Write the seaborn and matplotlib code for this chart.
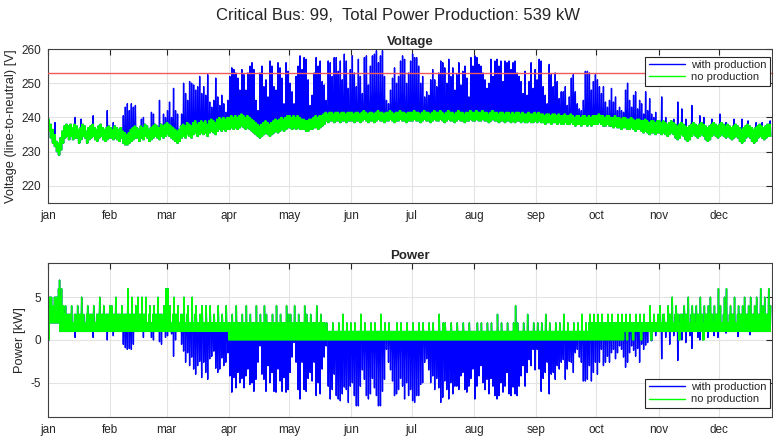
import numpy as np
import pandas as pd
import matplotlib
matplotlib.use("Agg")
import matplotlib.pyplot as plt
from matplotlib.lines import Line2D
import seaborn as sns

N = None

# ---------------- axis labels / categories ----------------
months = ["jan", "feb", "mar", "apr", "may", "jun", "jul", "aug", "sep", "oct", "nov", "dec"]
month_start = [0, 31, 59, 90, 120, 151, 181, 212, 243, 273, 304, 334]
voltage_limit = 253
v_ticks = [220, 230, 240, 250, 260]
p_ticks = [-5, 0, 5]

# ---------------- voltage, no production: daily band (hi / lo) [V] ----------------
v_hi = [
    # jan
    239.5, 238, 236.5, 235, 233, 232.5, 234, 236, 237.5, 238, 237.5, 238, 237, 238, 237.5, 236.5,
    237, 238, 237.5, 236, 237, 237.5, 238, 237, 236.5, 237.5, 238, 237, 236.5, 237, 237.5,
    # feb
    237, 236.5, 237.5, 237, 236.5, 237, 236, 235.5, 235, 235.5, 236.5, 237, 237.5, 237, 236.5,
    237.5, 237, 238, 237.5, 236.5, 237, 237.5, 238, 237.5, 237, 238, 237.5, 238,
    # mar
    238.5, 238, 237.5, 237, 236.5, 236, 236.5, 237.5, 238, 237.5, 238.5, 238, 237.5, 238.5, 239,
    238, 238.5, 239, 238.5, 239, 238, 239, 239.5, 239, 238.5, 239.5, 240, 239.5, 240, 239.5, 240,
    # apr
    240, 240.5, 240, 240.5, 240, 240.5, 241, 240.5, 240, 240.5, 240, 239.5, 239, 238.5, 238,
    237.5, 238, 238.5, 239, 238.5, 238, 238.5, 239, 239.5, 239, 239.5, 240, 239.5, 240, 240.5,
    # may
    240.5, 240, 240.5, 240, 240.5, 240, 239.5, 239.5, 239, 239, 239.5, 239.5, 240, 240.5, 240,
    240.5, 240.5, 241, 241.5, 241, 241.5, 241.5, 241, 241.5, 241.5, 241, 241.5, 241.5, 241, 241.5, 241.5,
    # jun
    241.5, 241, 241.5, 241.5, 241, 241.5, 242, 241.5, 241, 241.5, 241.5, 241, 241.5, 242, 241.5,
    241.5, 241, 241.5, 241.5, 242, 241.5, 241, 241.5, 241.5, 242, 241.5, 241.5, 241, 241.5, 241.5,
    # jul
    241.5, 242, 241.5, 241.5, 241, 241.5, 242, 241.5, 241.5, 241, 241.5, 242, 241.5, 241.5, 242,
    241.5, 241, 241.5, 242, 241.5, 241.5, 241, 241.5, 242, 241.5, 241.5, 241, 241.5, 241.5, 242, 241.5,
    # aug
    241.5, 242, 241.5, 241.5, 242, 241.5, 241.5, 241, 241.5, 242, 241.5, 241.5, 241, 241.5, 241.5,
    241, 241.5, 241.5, 241, 241.5, 241, 241.5, 241.5, 241, 241.5, 241, 241, 241.5, 241, 241, 241.5,
    # sep
    241, 241.5, 241, 241, 240.5, 241, 241, 240.5, 241, 241, 240.5, 241, 240.5, 240.5, 241,
    240.5, 240.5, 241, 240.5, 240, 240.5, 240.5, 240, 240.5, 240.5, 240, 240.5, 240, 240.5, 240.5,
    # oct
    240.5, 241, 240.5, 240.5, 240, 240.5, 240.5, 240, 240, 240.5, 240, 240, 239.5, 240, 240,
    239.5, 239.5, 240, 239.5, 239, 239.5, 239.5, 239, 239, 239.5, 239, 238.5, 239, 239, 238.5, 239,
    # nov
    239, 238.5, 239, 238.5, 238, 238.5, 239, 238.5, 238, 237.5, 238, 238.5, 238, 237.5, 237,
    237.5, 238, 238.5, 238, 237.5, 238, 238.5, 238, 237.5, 237, 237.5, 238, 238.5, 238, 237.5,
    # dec
    238, 238.5, 238, 237.5, 238, 237.5, 237, 237.5, 238, 237.5, 237, 236.5, 237, 237.5, 238,
    237.5, 237, 236.5, 237, 237.5, 238, 237.5, 237, 237.5, 238, 238,
]
v_lo = [
    # jan
    236, 234, 232.5, 231.5, 230, 229, 230.5, 232.5, 234, 234.5, 233.5, 234.5, 233.5, 234, 234,
    232.5, 233.5, 234.5, 234, 232.5, 233.5, 234, 234.5, 233.5, 233, 234, 234.5, 233.5, 233, 233.5, 234,
    # feb
    234, 233.5, 234, 233.5, 233, 234, 232.5, 232, 232, 232.5, 233, 233.5, 234, 234, 233, 234,
    233.5, 234.5, 234, 233, 233.5, 234, 234.5, 234, 233.5, 234.5, 234, 234.5,
    # mar
    235, 234.5, 234, 233.5, 233, 232.5, 233, 234, 234.5, 234, 235, 234.5, 234, 235, 235.5, 234.5,
    235, 235.5, 235, 235.5, 234.5, 235.5, 236, 235.5, 235, 236, 236.5, 236, 236.5, 236, 236.5,
    # apr
    236.5, 237, 236.5, 237, 236.5, 237, 237.5, 237, 236.5, 237, 236.5, 236, 235.5, 235, 234.5,
    234, 234.5, 235, 235.5, 235, 234.5, 235, 235.5, 236, 235.5, 236, 236.5, 236, 236.5, 237,
    # may
    237, 236.5, 237, 236.5, 237, 236.5, 236.5, 236.5, 236, 236, 236.5, 236.5, 237, 237, 236.5, 237,
    237.5, 238, 239, 238.5, 239, 239, 238.5, 239, 239, 238.5, 239, 239, 238.5, 239, 239,
    # jun
    239, 238.5, 239, 239, 238.5, 239, 239.5, 239, 238.5, 239, 239, 238.5, 239, 239.5, 239,
    239, 238.5, 239, 239, 239.5, 239, 238.5, 239, 239, 239.5, 239, 239, 238.5, 239, 239,
    # jul
    239, 239.5, 239, 239, 238.5, 239, 239.5, 239, 239, 238.5, 239, 239.5, 239, 239, 239.5,
    239, 238.5, 239, 239.5, 239, 239, 238.5, 239, 239.5, 239, 239, 238.5, 239, 239, 239.5, 239,
    # aug
    239, 239.5, 239, 239, 239.5, 239, 239, 238.5, 239, 239.5, 239, 239, 238.5, 239, 239,
    238.5, 239, 239, 238.5, 239, 238.5, 239, 239, 238.5, 239, 238.5, 238.5, 239, 238.5, 238.5, 239,
    # sep
    238.5, 239, 238.5, 238.5, 238, 238.5, 238.5, 238, 238.5, 238.5, 238, 238.5, 238, 238, 238.5,
    238, 238, 238.5, 238, 237.5, 238, 238, 237.5, 238, 238, 237.5, 238, 237.5, 238, 238,
    # oct
    238, 238.5, 238, 237.5, 237.5, 238, 237.5, 237.5, 237, 237.5, 237, 237, 236.5, 237, 237,
    236.5, 236.5, 237, 236.5, 236, 236.5, 236.5, 236, 235.5, 236, 235.5, 235, 235.5, 235.5, 235, 235.5,
    # nov
    235.5, 235, 235.5, 235, 234.5, 235, 235.5, 235, 234, 233.5, 234, 235, 234.5, 233.5, 233,
    233.5, 234.5, 235, 234.5, 234, 234.5, 235, 234.5, 233.5, 233, 233.5, 234.5, 235, 234.5, 234,
    # dec
    234.5, 235, 234.5, 234, 234.5, 234, 233.5, 234, 234.5, 234, 233, 232.5, 233, 234, 234.5,
    234, 233, 232.5, 233, 234, 234.5, 234, 233.5, 234, 234.5, 234.5,
]
# ---------------- voltage, with production: daily midday peak [V] (0 = no visible peak) ----------------
v_pk = [
    # jan
    0, 0, 0, 238.5, 0, 0, 0, 0, 0, 0, 0, 0, 0, 240, 0, 0, 239.5, 0, 0, 0, 0, 0, 240.5, 0, 0, 0, 0, 0, 0, 242, 0,
    # feb
    0, 238.5, 0, 0, 0, 0, 240.5, 243, 244, 242, 244, 243, 243.5, 0, 0, 239.5, 240, 0, 0, 0,
    241.5, 241, 0, 0, 245, 0, 241, 240,
    # mar
    242, 244.5, 240, 248.5, 242, 241, 0, 241, 250, 247, 245, 250.5, 250, 249.5, 248, 249, 252, 247,
    249, 246.5, 252.5, 244.5, 243, 245, 251.5, 246, 243.5, 246.5, 244, 241.5, 245,
    # apr
    252, 254.5, 254, 253, 251.5, 248, 254, 252.5, 248, 253, 255, 256, 254, 245, 242, 253, 255, 249,
    251, 246, 256.5, 255, 249, 248, 256, 254.5, 251.5, 244, 256, 253.5,
    # may
    250, 247.5, 244, 252, 255, 258, 254, 257.5, 257, 251, 243.5, 246.5, 253, 257.5, 255, 256.5,
    250.5, 249.5, 245, 256.5, 256, 252, 257.5, 257.5, 253.5, 256.5, 251, 258.5, 256.5, 248.5, 254,
    # jun
    258, 253, 249, 257, 252, 247, 257.5, 258, 249.5, 255, 258, 258.5, 259.5, 256, 258, 259.5, 252,
    245, 244, 248, 251.5, 254.5, 250, 252, 256.5, 258, 257, 250, 253, 256.5,
    # jul
    258.5, 257.5, 257.5, 255, 250, 252, 246, 247.5, 246.5, 251, 254, 251, 249, 253, 256.5, 256,
    254.5, 250, 257, 252, 254.5, 248, 252.5, 256, 249.5, 253.5, 255, 251.5, 246, 257.5, 255,
    # aug
    258, 257.5, 255.5, 255, 253, 251, 248.5, 250, 257, 252, 256.5, 257, 255, 256.5, 250.5, 256.5,
    256, 256.5, 254, 256, 256.5, 253, 252, 250.5, 247, 253.5, 246.5, 250.5, 256, 248.5, 254,
    # sep
    251, 257, 256.5, 249, 246.5, 244, 255.5, 252.5, 249, 253, 250.5, 245.5, 247.5, 247.5, 249,
    243.5, 246, 251.5, 252.5, 247.5, 244, 242.5, 242, 245, 253.5, 253.5, 253, 248, 250.5, 252.5,
    # oct
    251, 249, 247, 249, 244.5, 243, 245, 248.5, 244.5, 246, 242, 243, 242, 241.5, 248, 250, 245,
    243, 246.5, 247.5, 242.5, 245, 244, 241, 247.5, 242, 245.5, 241, 240, 241.5, 0,
    # nov
    0, 246, 0, 240, 0, 0, 0, 239.5, 0, 244.5, 0, 242.5, 0, 239.5, 0, 0, 243.5, 0, 0, 0,
    240.5, 0, 240, 0, 0, 0, 239.5, 0, 0, 0,
    # dec
    241, 0, 0, 238.5, 0, 0, 0, 239.5, 0, 0, 0, 239.5, 0, 0, 239, 0, 0, 0, 238.5, 0, 0, 238.5, 0, 0, 0, 239,
]

# ---------------- power, no production: daily low / high / spike [kW] ----------------
p_lo = (
    [0, 2, 2, 2, 2, 2, 1, 1, 1, 1, 1, 1, 1, 1, 1, 1, 1, 1, 1, 1, 1, 1, 1, 1, 1, 1, 1, 1, 1, 1, 1]  # jan
    + [1, 1, 1, 1, 1, 1, 1, 1, 1, 1, 1, 1, 1, 1, 1, 1, 1, 1, 1, 1, 1, 1, 1, 1, 1, 1, 1, 1]  # feb
    + [1, 1, 1, 1, 1, 1, 1, 1, 1, 1, 1, 1, 1, 1, 1, 1, 1, 1, 1, 1, 1, 1, 1, 1, 1, 1, 1, 1, 1, 1, 1]  # mar
    + [0, 0, 0, 0, 0, 0, 0, 0, 0, 0, 0, 0, 0, 0, 0, 0, 0, 0, 0, 0, 0, 0, 0, 0, 0, 0, 0, 0, 0, 0]  # apr
    + [0, 0, 0, 0, 0, 0, 0, 0, 0, 0, 0, 0, 0, 0, 0, 0, 0, 0, 0, 0, 0, 0, 0, 0, 0, 0, 0, 0, 0, 0, 0]  # may
    + [0, 0, 0, 0, 0, 0, 0, 0, 0, 0, 0, 0, 0, 0, 0, 0, 0, 0, 0, 0, 0, 0, 0, 0, 0, 0, 0, 0, 0, 0]  # jun
    + [0, 0, 0, 0, 0, 0, 0, 0, 0, 0, 0, 0, 0, 0, 0, 0, 0, 0, 0, 0, 0, 0, 0, 0, 0, 0, 0, 0, 0, 0, 0]  # jul
    + [0, 0, 0, 0, 0, 0, 0, 0, 0, 0, 0, 0, 0, 0, 0, 0, 0, 0, 0, 0, 0, 0, 0, 0, 0, 0, 0, 0, 0, 0, 0]  # aug
    + [0, 0, 0, 0, 0, 0, 0, 0, 0, 0, 0, 0, 0, 0, 0, 0, 0, 0, 0, 0, 0, 0, 0, 0, 0, 0, 0, 0, 0, 0]  # sep
    + [0, 0, 0, 0, 0, 0, 0, 0, 0, 0, 0, 0, 0, 0, 1, 0, 1, 1, 0, 1, 1, 1, 0, 1, 1, 1, 1, 0, 1, 1, 1]  # oct
    + [1, 1, 1, 1, 1, 1, 1, 1, 1, 1, 0, 1, 1, 1, 1, 1, 1, 1, 1, 1, 1, 1, 0, 1, 1, 1, 1, 1, 1, 1]  # nov
    + [1, 1, 1, 1, 1, 1, 1, 1, 1, 1, 1, 1, 1, 1, 1, 1, 1, 1, 1, 1, 1, 1, 1, 1, 1, 1]  # dec
)
p_hi = (
    [5, 5, 4, 5, 5, 6, 5, 4, 3, 3, 3, 3, 2, 3, 2, 3, 3, 3, 2, 3, 3, 3, 3, 2, 3, 3, 3, 3, 3, 3, 3]  # jan
    + [3, 3, 3, 3, 3, 3, 3, 3, 3, 3, 3, 3, 3, 3, 3, 3, 3, 3, 2, 3, 2, 3, 3, 3, 3, 3, 2, 3]  # feb
    + [3, 3, 2, 3, 3, 3, 2, 3, 2, 2, 3, 2, 2, 2, 3, 2, 2, 2, 2, 2, 2, 2, 2, 2, 2, 2, 2, 2, 2, 2, 2]  # mar
    + [2, 2, 2, 2, 2, 2, 2, 2, 2, 2, 2, 2, 2, 2, 2, 2, 2, 2, 2, 2, 2, 2, 2, 2, 2, 2, 2, 2, 2, 2]  # apr
    + [2, 2, 2, 2, 2, 2, 2, 2, 2, 2, 2, 2, 2, 2, 2, 2, 2, 2, 1, 1, 1, 1, 1, 1, 1, 1, 1, 1, 1, 1, 1]  # may
    + [1, 1, 1, 1, 1, 1, 1, 1, 1, 1, 1, 1, 1, 1, 1, 1, 1, 1, 1, 1, 1, 1, 1, 1, 1, 1, 1, 1, 1, 1]  # jun
    + [1, 1, 1, 1, 1, 1, 1, 1, 1, 1, 1, 1, 1, 1, 1, 1, 1, 1, 1, 1, 1, 1, 1, 1, 1, 1, 1, 1, 1, 1, 1]  # jul
    + [1, 1, 1, 1, 1, 1, 1, 1, 1, 1, 1, 1, 1, 1, 1, 1, 1, 1, 1, 1, 1, 1, 1, 1, 1, 1, 1, 1, 1, 1, 1]  # aug
    + [1, 1, 1, 1, 1, 1, 1, 1, 1, 1, 1, 1, 1, 1, 1, 1, 1, 1, 1, 1, 1, 1, 1, 1, 1, 1, 2, 2, 2, 2]  # sep
    + [2, 2, 2, 2, 2, 2, 2, 2, 2, 2, 2, 2, 2, 2, 2, 2, 2, 2, 2, 2, 2, 2, 2, 2, 2, 2, 2, 2, 2, 2, 2]  # oct
    + [2, 2, 3, 2, 2, 3, 2, 2, 3, 3, 2, 3, 2, 3, 3, 2, 3, 3, 2, 3, 3, 3, 2, 3, 3, 3, 3, 2, 3, 3]  # nov
    + [3, 2, 3, 3, 2, 3, 3, 3, 2, 3, 3, 3, 3, 3, 3, 3, 3, 3, 3, 3, 3, 3, 3, 3, 3, 3]  # dec
)
p_sp = (  # 0 = no spike above the daily high
    [0, 0, 0, 0, 0, 7, 6, 0, 4, 0, 0, 4, 0, 0, 4, 0, 5, 0, 0, 4, 0, 0, 4, 0, 0, 5, 0, 4, 0, 0, 4]  # jan
    + [4, 0, 5, 0, 0, 4, 0, 0, 6, 0, 5, 0, 4, 5, 0, 5, 0, 5, 0, 4, 0, 4, 0, 5, 0, 0, 4, 6]  # feb
    + [6, 4, 0, 5, 0, 4, 0, 0, 5, 0, 4, 0, 5, 0, 4, 0, 3, 4, 0, 4, 0, 4, 0, 3, 0, 4, 0, 3, 0, 4, 0]  # mar
    + [0, 3, 0, 4, 0, 0, 3, 0, 4, 0, 3, 0, 0, 4, 0, 3, 0, 4, 3, 0, 0, 3, 0, 4, 0, 3, 0, 0, 4, 3]  # apr
    + [3, 0, 4, 0, 3, 0, 0, 4, 3, 0, 3, 0, 0, 4, 0, 3, 0, 0, 2, 0, 0, 2, 0, 0, 2, 0, 3, 0, 2, 0, 2]  # may
    + [0, 2, 0, 0, 3, 0, 2, 0, 0, 2, 0, 2, 0, 0, 3, 0, 2, 0, 2, 0, 0, 0, 2, 0, 2, 0, 0, 2, 0, 0]  # jun
    + [2, 0, 0, 2, 0, 2, 0, 0, 2, 0, 2, 0, 0, 3, 0, 2, 2, 0, 0, 2, 0, 0, 2, 0, 0, 2, 0, 0, 2, 0, 0]  # jul
    + [0, 2, 0, 2, 0, 0, 2, 0, 2, 0, 0, 3, 0, 2, 0, 0, 2, 0, 0, 2, 4, 2, 0, 0, 2, 0, 3, 0, 0, 2, 0]  # aug
    + [2, 0, 2, 0, 3, 0, 2, 0, 0, 2, 0, 2, 0, 3, 0, 2, 0, 0, 2, 0, 2, 0, 3, 0, 2, 0, 3, 0, 3, 0]  # sep
    + [3, 0, 3, 0, 0, 3, 0, 3, 0, 0, 3, 0, 3, 0, 3, 0, 3, 0, 0, 3, 0, 3, 0, 3, 0, 0, 4, 0, 3, 0, 3]  # oct
    + [4, 0, 3, 0, 4, 0, 5, 0, 4, 0, 3, 0, 4, 0, 5, 0, 4, 0, 4, 0, 5, 0, 4, 0, 4, 5, 0, 4, 0, 6]  # nov
    + [4, 0, 5, 6, 0, 4, 0, 5, 0, 4, 0, 4, 5, 0, 4, 5, 0, 4, 5, 0, 6, 4, 5, 0, 6, 4]  # dec
)
# ---------------- power, with production: daily midday minimum [kW] (None = no visible dip) ----------------
p_mn = (
    [N, N, N, N, N, N, N, N, N, N, N, N, N, 0.3, N, N, N, N, N, N, N, N, 0.3, N, N, N, N, N, N, 0, N]  # jan
    + [N, 0.5, N, N, N, N, -0.5, -0.9, -1.1, -1, -1.1, -0.5, N, N, N, N, 0.3, N, N, N, 0.3, 0, N, N,
       -0.2, -0.5, N, 0.3]  # feb
    + [0.5, N, 0.7, -1.9, 0, 1, N, -0.5, -1.3, -2.6, -1.5, -3, -2, -3.4, -4, -3, -2.5, -4.4, -2.6, -3.8,
       -4.6, -2.2, -1.9, -1.3, -3.3, -3.8, -3.4, -2.1, -3, -2.6, -1.5]  # mar
    + [-4.2, -6.1, -4.4, -5.6, -3.8, -5, -4.5, -5.6, -4.2, -3.4, -5.2, -5, -6, -4.6, -2.6, -0.7, -4, -4.6,
       -6, -3, -5, -3.8, -6, -6.1, -3.4, -4.8, -6, -4.4, -6.1, -5.8]  # apr
    + [-3.8, -2, -0.3, -2.6, -5.8, -6.9, -2.6, -5.8, -6, -4.5, -3.8, -4.8, -2.6, -6.5, -5, -6.3, -3.4, -2,
       -0.7, -5.4, -6.9, -5.8, -4, -6.5, -6.9, -7.1, -6.3, -5.5, -5.8, -7.3, -5.4]  # may
    + [-5, -6.5, -7.7, -7.7, -5.4, -3.5, -4.6, -6.5, -6.9, -6.3, -4.5, -5.6, -6.5, -7.7, -7.7, -6, -4.6,
       -1.1, -2.6, -3.5, -4.8, -6.5, -6.3, -5.8, -4.5, -5.4, -6.9, -5, -6.5, -5.8]  # jun
    + [-7.1, -7.3, -6.5, -6.5, -5.2, -5, -2.6, -2.2, -3.5, -5, -4.2, -5.8, -4.5, -5.6, -7.3, -6.7, -4.8,
       -5.8, -6.9, -5, -6.3, -5.4, -5.4, -5.8, -4.2, -3.8, -5.8, -6.1, -5.4, -4.5, -3.4]  # jul
    + [-6.9, -5.4, -4.2, -3, -5, -5.8, -4.6, -6.3, -4.5, -5.4, -6.5, -6.9, -6.5, -5, -6.1, -5.4, -3.8,
       -6.3, -6.5, -5.5, -6.3, -6.5, -5.4, -4.2, -3, -5.4, -3.8, -2.3, -3, -1.1, -3.5]  # aug
    + [-1.1, -3.4, -6, -4.5, -3.8, -2.6, -6.3, -4, -3.8, -4.6, -3, -3.4, -2.6, -2.3, -4.6, -3.4, -2.5,
       -2.6, -3.8, -1.5, -1.1, -2, -2.6, -4.8, -4.8, -4.6, -3, -4.8, -3.8, -2.6]  # sep
    + [-4, -2.6, -1.1, -3, -2.6, -1.9, -2.6, -1.5, -1.1, -2.2, -1.5, -0.7, -1.1, -2, -3.2, -2.6, -1.5,
       -0.7, -1.2, -1.9, -1, -2.6, -0.5, -1.1, -0.6, -0.3, N, -0.1, N, 0.5, N]  # oct
    + [N, -2.2, N, 0.3, N, -0.5, N, 0.5, N, -2.4, N, 0, N, -0.3, N, 0.5, -1, N, N, 0.3, 0, N, 0.5, N,
       0.3, N, N, 0.5, N, 0.3]  # nov
    + [N, N, N, 0.8, N, N, N, N, N, 0.4, N, N, N, N, N, 0.6, N, N, N, N, N, N, N, N, N, N]  # dec
)

# ---------------- assemble series (4 samples per day) ----------------
day = np.arange(len(v_hi), dtype=float)
t = np.column_stack([day, day + 0.25, day + 0.5, day + 0.75]).ravel()

vh = np.array(v_hi, float)
vl = np.array(v_lo, float)
vp = np.array(v_pk, float)
vp = np.where(vp > 0, vp, vh)
v_none = np.column_stack([vh, vl, vh, vl]).ravel()
v_with = np.column_stack([vh, vl, vp, vl]).ravel()

pl = np.array(p_lo, float)
ph = np.array(p_hi, float)
ps = np.array(p_sp, float)
ps = np.where(ps > 0, ps, ph)
pm = np.array(p_mn, dtype=float)
pm = np.where(np.isnan(pm), pl, pm)
p_none = np.column_stack([pl, ph, pl, ps]).ravel()
p_with = np.column_stack([pl, ph, pm, ps]).ravel()

df = pd.DataFrame({"t": t, "v_with": v_with, "v_none": v_none, "p_with": p_with, "p_none": p_none})

# ---------------- style ----------------
sns.set_theme(style="white")
plt.rcParams["font.family"] = ["Liberation Sans", "DejaVu Sans"]
dark = "#262626"
plt.rcParams.update({
    "axes.edgecolor": dark, "axes.linewidth": 0.8,
    "xtick.color": dark, "ytick.color": dark,
    "xtick.labelcolor": dark, "ytick.labelcolor": dark,
    "text.color": dark, "axes.labelcolor": dark,
    "axes.unicode_minus": False,
})

fig = plt.figure(figsize=(7.73, 4.43), dpi=100)
ax1 = fig.add_axes([48 / 773, 1 - 203 / 443, 724 / 773, 154 / 443])
ax2 = fig.add_axes([48 / 773, 1 - 417 / 443, 724 / 773, 154 / 443])

blue = "#0000ff"
green = "#00ff00"
lw = 1.0

sns.lineplot(data=df, x="t", y="v_with", ax=ax1, color=blue, lw=lw, estimator=None, sort=False)
sns.lineplot(data=df, x="t", y="v_none", ax=ax1, color=green, lw=lw, estimator=None, sort=False)
ax1.axhline(voltage_limit, color="#f05a5a", lw=1.0, zorder=5)

sns.lineplot(data=df, x="t", y="p_with", ax=ax2, color=blue, lw=lw, estimator=None, sort=False)
sns.lineplot(data=df, x="t", y="p_none", ax=ax2, color=green, lw=lw, estimator=None, sort=False)

for ax in (ax1, ax2):
    ax.set_xlim(0, 360.4)
    ax.set_xticks(month_start)
    ax.set_xticklabels(months)
    ax.grid(True, color="#e3e3e3", lw=0.8)
    ax.set_axisbelow(True)
    ax.tick_params(direction="in", length=4, width=0.8, labelsize=8.5, top=True, right=True,
                   pad=5)
    ax.set_xlabel("")
    for s in ax.spines.values():
        s.set_visible(True)
        s.set_color("#404040")

ax1.set_ylim(215, 260)
ax1.set_yticks(v_ticks)
ax1.set_ylabel("Voltage (line-to-neutral) [V]", fontsize=9.3, labelpad=3)
ax1.set_title("Voltage", fontsize=9.5, fontweight="bold", pad=3)

ax2.set_ylim(-9, 9)
ax2.set_yticks(p_ticks)
ax2.set_ylabel("Power [kW]", fontsize=9.3, labelpad=3)
ax2.set_title("Power", fontsize=9.5, fontweight="bold", pad=3)

handles = [Line2D([], [], color=blue, lw=1.0), Line2D([], [], color=green, lw=1.0)]
labels = ["with production", "no production"]
leg_kw = dict(fontsize=8, frameon=True, fancybox=False, edgecolor=dark, framealpha=1,
              handlelength=3.3, handletextpad=0.5, borderpad=0.3, labelspacing=0.2,
              borderaxespad=0.0)
l1 = ax1.legend(handles, labels, loc="upper right", bbox_to_anchor=(0.997, 0.95), **leg_kw)
l2 = ax2.legend(handles, labels, loc="lower right", bbox_to_anchor=(0.997, 0.06), **leg_kw)
for lg in (l1, l2):
    lg.get_frame().set_linewidth(0.8)
    lg.set_zorder(10)

fig.text(398 / 773, 1 - 16 / 443, "Critical Bus: 99,  Total Power Production: 539 kW",
         ha="center", va="center", fontsize=12)

fig.savefig("out.png", dpi=100)
